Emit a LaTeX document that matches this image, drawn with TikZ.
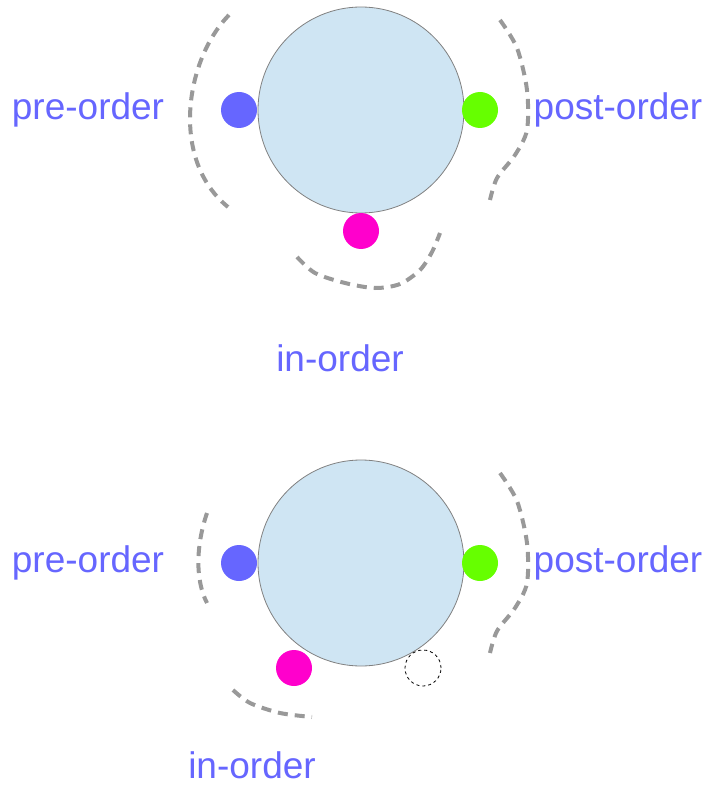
\documentclass[tikz,border=0pt]{standalone}
\usepackage{fontspec}
\setmainfont{Liberation Sans}
\usetikzlibrary{positioning}

\definecolor{nodeblue}{HTML}{CFE5F3}
\definecolor{preblue}{HTML}{6666FF}
\definecolor{postgreen}{HTML}{66FF00}
\definecolor{inpink}{HTML}{FF00CC}
\definecolor{trailgray}{HTML}{999999}

\tikzset{
  bignode/.style={circle,draw=gray,fill=nodeblue,line width=0.8pt,inner sep=0pt,minimum size=206pt},
  visit/.style={circle,inner sep=0pt,minimum size=36pt},
  ghost/.style={circle,draw=black,dashed,line width=0.8pt,inner sep=0pt,minimum size=36pt},
  trail/.style={draw=trailgray,line width=4pt,dash pattern=on 10pt off 7pt},
  orderlbl/.style={text=preblue,font=\fontsize{37}{44}\selectfont,inner sep=0pt}
}

\begin{document}
\begin{tikzpicture}[x=1pt,y=-1pt]
  \useasboundingbox (0,0) rectangle (709,786);
  % first: full visit, three stops round the node
  \node[bignode] (topN) at (361,110) {};
  \node[visit,fill=preblue]   (topPre)  at (239,110) {};
  \node[visit,fill=postgreen] (topPost) at (480,110) {};
  \node[visit,fill=inpink]    (topIn)   at (361,231) {};
  \node[orderlbl] (topPreL)  at (88,110)  {pre-order};
  \node[orderlbl] (topPostL) at (618,110) {post-order};
  \node[orderlbl] (topInL)   at (340,358) {in-order};
  \draw[trail] (229,15) .. controls (185,60) and (170,160) .. (228,207);
  \draw[trail] plot[smooth] coordinates {(500,20) (517,48) (527,90) (527,130) (515,155) (497,178) (490,200)};
  \draw[trail] plot[smooth] coordinates {(297,257) (315,273) (345,283) (375,288) (400,284) (420,270) (432,252) (440,233)};
  % second: in-order stop moved
  \node[bignode] (botN) at (361,563) {};
  \node[visit,fill=preblue]   (botPre)  at (239,563) {};
  \node[visit,fill=postgreen] (botPost) at (480,563) {};
  \node[visit,fill=inpink]    (botIn)   at (294,668) {};
  \node[ghost] (botGhost) at (423,668) {};
  \node[orderlbl] (botPreL)  at (88,563)  {pre-order};
  \node[orderlbl] (botPostL) at (618,563) {post-order};
  \node[orderlbl] (botInL)   at (252,765) {in-order};
  \draw[trail] (207,513) .. controls (196,545) and (195,580) .. (207,603);
  \draw[trail] plot[smooth] coordinates {(500,473) (517,501) (527,543) (527,583) (515,608) (497,631) (490,653)};
  \draw[trail] plot[smooth] coordinates {(233,690) (250,703) (280,713) (312,717)};
\end{tikzpicture}
\end{document}
